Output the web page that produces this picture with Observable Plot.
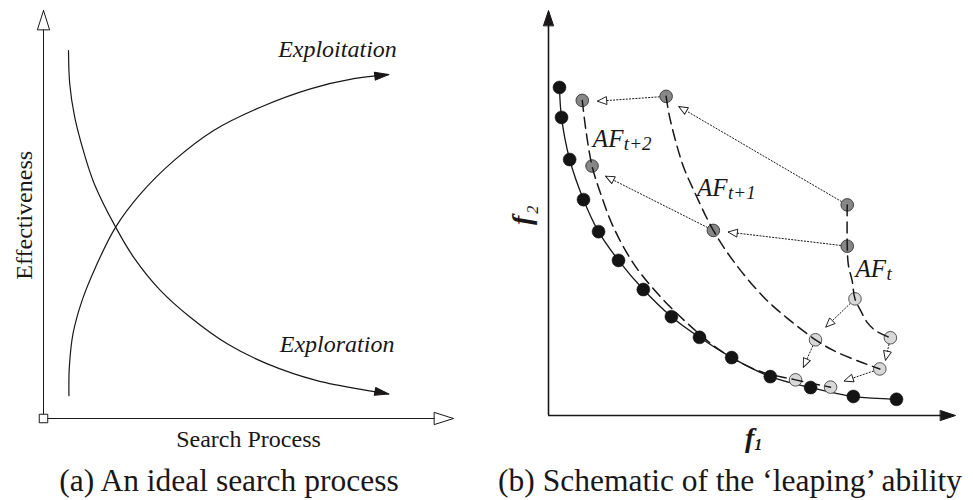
<!DOCTYPE html>
<html>
<head>
<meta charset="utf-8">
<script src="https://cdn.jsdelivr.net/npm/d3@7"></script>
<script src="https://cdn.jsdelivr.net/npm/@observablehq/plot@0.6"></script>
<style>
  body { margin: 0; background: #fff; }
  #wrap { position: relative; width: 973px; height: 500px; overflow: hidden; background: #fff; }
  #pa { position: absolute; left: 0; top: 0; }
  #pb { position: absolute; left: 490px; top: 0; }
  .cap { position: absolute; top: 462px; font-family: "Liberation Serif", "Times New Roman", serif;
         font-size: 31.5px; line-height: 38px; white-space: nowrap; color: #1a1718; transform: translateX(-50%); }
</style>
</head>
<body>
<div id="wrap">
  <div id="pa"></div>
  <div id="pb"></div>
  <div class="cap" style="left:229px">(a) An ideal search process</div>
  <div class="cap" style="left:730px">(b) Schematic of the ‘leaping’ ability</div>
</div>
<script>
// ---------- Panel (a) data: an ideal search process ----------
const explorationX  = [6.1, 6.4, 7.6, 9.7, 12.4, 17.6, 22.0, 28.5, 35.8, 44.8, 54.6, 66.7, 84.2];
const explorationY  = [90.2, 82.0, 73.9, 65.7, 57.5, 46.9, 39.5, 31.4, 24.8, 18.3, 13.4, 9.3, 6.0];
const exploitationX = [6.2, 6.3, 7.2, 9.4, 12.7, 17.6, 23.7, 31.8, 41.5, 52.9, 65.1, 75.7, 84.2];
const exploitationY = [5.6, 12.6, 20.8, 28.9, 37.1, 46.9, 55.1, 63.2, 70.6, 76.3, 80.8, 83.3, 84.3];
const curveLabels   = ["Exploitation", "Exploration"];
const axisLabelsA   = ["Search Process", "Effectiveness"];

// ---------- Panel (b) data: schematic of the 'leaping' ability ----------
const trueFrontF1 = [2.7, 3.2, 5.2, 8.6, 12.3, 17.2, 23.3, 30.2, 37.1, 45.0, 54.5, 64.4, 74.9, 85.5];
const trueFrontF2 = [81.0, 73.6, 63.2, 53.3, 45.4, 38.3, 31.1, 24.4, 19.3, 14.3, 9.6, 6.9, 4.7, 4.0];

const darkDotsF1  = [8.3, 10.7, 28.9, 40.5, 73.4, 73.4];
const darkDotsF2  = [77.8, 61.6, 78.8, 45.7, 52.0, 41.8];
const lightDotsF1 = [75.3, 84.0, 65.6, 81.4, 60.7, 69.3];
const lightDotsF2 = [28.8, 19.2, 18.7, 11.5, 8.8, 7.0];

const afT_F1  = [73.4, 73.4, 73.7, 74.6, 75.3, 76.7, 78.3, 80.3, 84.0];
const afT_F2  = [52.0, 41.8, 37.0, 33.3, 28.8, 25.9, 23.0, 21.0, 19.2];
const afT1_F1 = [28.9, 29.6, 31.2, 33.2, 35.7, 40.5, 45.9, 52.9, 58.7, 65.6, 70.1, 76.7, 81.4];
const afT1_F2 = [78.8, 74.5, 67.9, 61.3, 55.6, 45.7, 37.5, 29.2, 24.0, 18.7, 16.0, 13.2, 11.5];
const afT2_F1 = [8.3, 9.1, 10.7, 12.8, 16.0, 20.9, 26.8, 34.2, 42.3, 51.4, 60.7, 69.3];
const afT2_F2 = [77.8, 71.1, 61.6, 54.8, 46.4, 37.5, 30.1, 22.7, 16.0, 11.1, 8.8, 7.0];

const moveFromF1 = [73.4, 28.9, 73.4, 40.5, 75.3, 84.0, 65.6, 81.4];
const moveFromF2 = [52.0, 78.8, 41.8, 45.7, 28.8, 19.2, 18.7, 11.5];
const moveToF1   = [32.0, 12.0, 44.1, 14.0, 68.1, 82.8, 62.6, 72.6];
const moveToF2   = [76.3, 77.6, 45.3, 59.1, 21.8, 13.6, 11.9, 8.5];

const frontNames = ["AF", "AF", "AF"];
const frontSubs  = ["t+2", "t+1", "t"];
const frontLabF1 = [10.9, 36.5, 75.4];
const frontLabF2 = [66.2, 54.3, 34.1];

// ---------- helpers ----------
const ink = "#1a1718";
const serif = "Liberation Serif";
const zip = (xs, ys) => xs.map((x, i) => ({x, y: ys[i]}));
const triShape = {draw(ctx, l, r) { ctx.moveTo(-r, 0); ctx.lineTo(0, -l); ctx.lineTo(r, 0); ctx.closePath(); }};
function factors(c) { return {kx: (c.w - c.ml - c.mr) / 100, ky: (c.h - c.mt - c.mb) / 100}; }
function heading(x0, y0, x1, y1, k) { return Math.atan2((x1 - x0) * k.kx, (y1 - y0) * k.ky) * 180 / Math.PI; }

// ---------- Panel (a) ----------
const cfgA = {w: 490, h: 462, ml: 43, mr: 37, mt: 10, mb: 44};
const kA = factors(cfgA);
const exploration = zip(explorationX, explorationY);
const exploitation = zip(exploitationX, exploitationY);
const tipOf = (pts) => {
  const a = pts[pts.length - 2], b = pts[pts.length - 1];
  return {x: b.x, y: b.y, rotate: heading(a.x, a.y, b.x, b.y, kA)};
};
const curveTips = [tipOf(exploitation), tipOf(exploration)];
const axisHeadsA = [{x: 0, y: 100, rotate: 0}, {x: 100, y: 0, rotate: 90}];

const plotA = Plot.plot({
  width: cfgA.w, height: cfgA.h,
  marginLeft: cfgA.ml, marginRight: cfgA.mr, marginTop: cfgA.mt, marginBottom: cfgA.mb,
  x: {domain: [0, 100], axis: null},
  y: {domain: [0, 100], axis: null},
  style: {background: "transparent", overflow: "visible"},
  marks: [
    Plot.ruleX([0], {y1: 0, y2: 100, stroke: ink, strokeWidth: 1}),
    Plot.ruleY([0], {x1: 0, x2: 100, stroke: ink, strokeWidth: 1}),
    Plot.vector(axisHeadsA, {x: "x", y: "y", rotate: "rotate", length: 19, r: 6, shape: triShape, anchor: "end",
      fill: "white", stroke: ink, strokeWidth: 1}),
    Plot.dot([{x: 0, y: 0}], {x: "x", y: "y", symbol: "square", r: 4.8, fill: "white", stroke: ink, strokeWidth: 1}),
    Plot.line(exploration, {x: "x", y: "y", curve: "catmull-rom", stroke: ink, strokeWidth: 1.2}),
    Plot.line(exploitation, {x: "x", y: "y", curve: "catmull-rom", stroke: ink, strokeWidth: 1.2}),
    Plot.vector(curveTips, {x: "x", y: "y", rotate: "rotate", length: 14, r: 4, shape: triShape, anchor: "end",
      fill: ink, stroke: ink, strokeWidth: 1}),
    Plot.text([{t: curveLabels[0], x: 71.7, y: 88.5}, {t: curveLabels[1], x: 71.6, y: 16.2}],
      {x: "x", y: "y", text: "t", fontFamily: serif, fontStyle: "italic", fontSize: 24, lineAnchor: "bottom",
       textAnchor: "middle", fill: ink}),
    Plot.text([axisLabelsA[0]], {x: 50, y: -6.9, text: d => d, fontFamily: serif, fontSize: 24,
      lineAnchor: "bottom", textAnchor: "middle", fill: ink}),
    Plot.text([axisLabelsA[1]], {x: -2.8, y: 49.8, text: d => d, fontFamily: serif, fontSize: 24, rotate: -90,
      lineAnchor: "bottom", textAnchor: "middle", fill: ink})
  ]
});
document.getElementById("pa").append(plotA);

// ---------- Panel (b) ----------
const cfgB = {w: 483, h: 462, ml: 58, mr: 18, mt: 10, mb: 47};
const kB = factors(cfgB);
const trueFront = zip(trueFrontF1, trueFrontF2);
const darkDots = zip(darkDotsF1, darkDotsF2);
const lightDots = zip(lightDotsF1, lightDotsF2);
const fronts = [zip(afT_F1, afT_F2), zip(afT1_F1, afT1_F2), zip(afT2_F1, afT2_F2)];
const moves = moveFromF1.map((x1, i) => ({
  x1, y1: moveFromF2[i], x2: moveToF1[i], y2: moveToF2[i],
  rotate: heading(x1, moveFromF2[i], moveToF1[i], moveToF2[i], kB)
}));
const axisHeadsB = [{x: 0, y: 100, rotate: 0}, {x: 100, y: 0, rotate: 90}];
const frontLabels = frontNames.map((n, i) => ({n, s: frontSubs[i], x: frontLabF1[i], y: frontLabF2[i]}));

const plotB = Plot.plot({
  width: cfgB.w, height: cfgB.h,
  marginLeft: cfgB.ml, marginRight: cfgB.mr, marginTop: cfgB.mt, marginBottom: cfgB.mb,
  x: {domain: [0, 100], axis: null},
  y: {domain: [0, 100], axis: null},
  style: {background: "transparent", overflow: "visible"},
  marks: [
    Plot.ruleX([0], {y1: 0, y2: 97, stroke: ink, strokeWidth: 1.6}),
    Plot.ruleY([0], {x1: 0, x2: 97, stroke: ink, strokeWidth: 1.6}),
    Plot.vector(axisHeadsB, {x: "x", y: "y", rotate: "rotate", length: 15, r: 5, shape: triShape, anchor: "end",
      fill: ink, stroke: ink, strokeWidth: 1}),
    Plot.link(moves, {x1: "x1", y1: "y1", x2: "x2", y2: "y2", stroke: ink, strokeWidth: 1, strokeDasharray: "2,1.2"}),
    Plot.line(trueFront, {x: "x", y: "y", curve: "catmull-rom", stroke: ink, strokeWidth: 1.3}),
    Plot.dot(trueFront, {x: "x", y: "y", r: 6.5, fill: "#141414", stroke: "#141414", strokeWidth: 0.5}),
    Plot.dot(darkDots, {x: "x", y: "y", r: 6.3, fill: "#878787", stroke: "#333", strokeWidth: 0.9}),
    Plot.dot(lightDots, {x: "x", y: "y", r: 6.3, fill: "#d8d8d8", stroke: "#444", strokeWidth: 0.9}),
    ...fronts.map(f => Plot.line(f, {x: "x", y: "y", curve: "catmull-rom", stroke: ink, strokeWidth: 1.5,
      strokeDasharray: "11,6"})),
    Plot.vector(moves, {x: "x2", y: "y2", rotate: "rotate", length: 9, r: 3.8, shape: triShape, anchor: "end",
      fill: "white", stroke: ink, strokeWidth: 0.9}),
    Plot.text(frontLabels, {x: "x", y: "y", text: "n", fontFamily: serif, fontStyle: "italic", fontSize: 25,
      lineAnchor: "bottom", textAnchor: "start", fill: ink}),
    Plot.text(frontLabels, {x: "x", y: "y", text: "s", fontFamily: serif, fontStyle: "italic", fontSize: 19,
      lineAnchor: "bottom", textAnchor: "start", dx: 31, dy: 3, fill: ink}),
    Plot.text(["f"], {x: 49.6, y: -7.9, text: d => d, fontFamily: serif, fontStyle: "italic", fontWeight: "bold",
      fontSize: 28, lineAnchor: "bottom", textAnchor: "end", dx: 4, fill: ink}),
    Plot.text(["1"], {x: 49.6, y: -7.9, text: d => d, fontFamily: serif, fontStyle: "italic", fontWeight: "bold",
      fontSize: 16, lineAnchor: "bottom", textAnchor: "start", dx: 4, dy: 3, fill: ink}),
    Plot.text(["f"], {x: -4.2, y: 48.2, text: d => d, fontFamily: serif, fontStyle: "italic", fontWeight: "bold",
      fontSize: 28, rotate: -90, lineAnchor: "bottom", textAnchor: "middle", fill: ink}),
    Plot.text(["2"], {x: -2.7, y: 50.8, text: d => d, fontFamily: serif, fontStyle: "italic",
      fontSize: 16, rotate: -90, lineAnchor: "bottom", textAnchor: "middle", fill: ink})
  ]
});
document.getElementById("pb").append(plotB);
</script>
</body>
</html>
